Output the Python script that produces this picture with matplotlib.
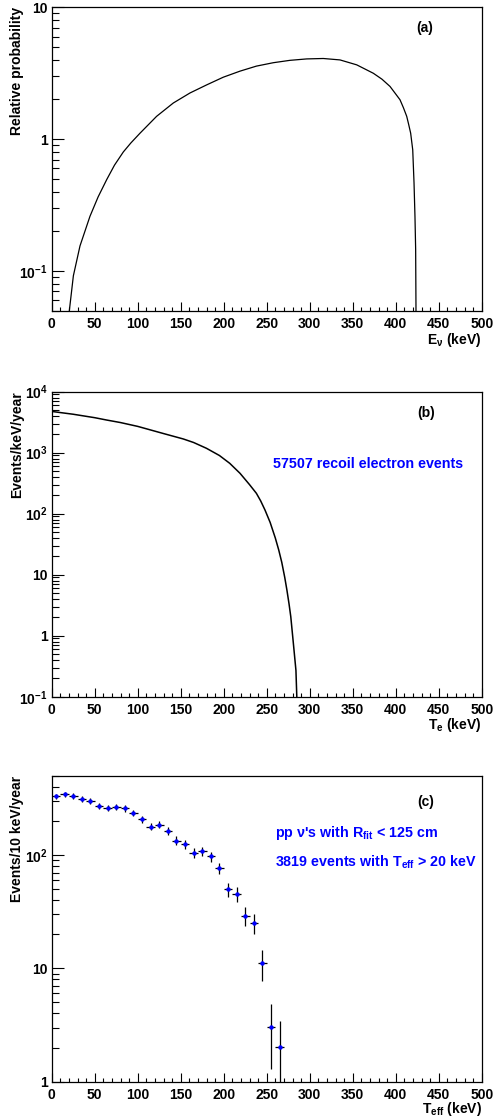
import numpy as np
import matplotlib
matplotlib.use("Agg")
import matplotlib.pyplot as plt
from matplotlib.ticker import FixedLocator, FuncFormatter, LogLocator, MultipleLocator, NullFormatter

plt.rcParams['font.family'] = ['Liberation Sans', 'DejaVu Sans']
plt.rcParams['font.weight'] = 'bold'
plt.rcParams['mathtext.fontset'] = 'custom'
plt.rcParams['mathtext.rm'] = 'Liberation Sans:bold'
plt.rcParams['mathtext.bf'] = 'Liberation Sans:bold'
plt.rcParams['mathtext.it'] = 'Liberation Sans:bold'
plt.rcParams['mathtext.default'] = 'bf'

# ---- Panel (a): neutrino energy spectrum ----
ev_energy = [20.5, 25.2, 32.9, 44.5, 54, 64, 73, 83.3, 92, 102.7, 122, 141.4, 160.8, 180.2,
             199.5, 219, 238, 257.7, 277, 296.5, 315.8, 335.2, 354.7, 374, 384, 393.4, 400,
             405, 409, 412.8, 415, 417.4, 419.8, 421.3, 422.4, 423.2, 423.6]
ev_prob = [0.05, 0.092, 0.155, 0.26, 0.365, 0.494, 0.635, 0.80, 0.935, 1.11, 1.49, 1.88, 2.24,
           2.58, 2.95, 3.28, 3.58, 3.80, 3.96, 4.06, 4.09, 3.99, 3.66, 3.16, 2.85, 2.51, 2.2,
           1.99, 1.73, 1.49, 1.3, 1.11, 0.83, 0.467, 0.26, 0.146, 0.05]

# ---- Panel (b): recoil electron spectrum ----
te_energy = [0, 10, 25, 50, 64, 80, 100, 114, 130, 153, 165, 180, 195, 207, 219, 230, 238,
             243, 248, 254, 260, 264, 267.5, 271, 273.5, 276, 278, 281, 284, 285]
te_rate = [4750, 4550, 4270, 3750, 3430, 3120, 2700, 2380, 2060, 1680, 1470, 1180, 900, 670,
           459, 300, 216, 162, 115, 72, 40, 25.4, 16, 9, 5.6, 3.3, 2.05, 0.75, 0.27, 0.1]

# ---- Panel (c): binned events ----
teff_centers = [5, 15, 25, 35, 45, 55, 65, 75, 85, 95, 105, 115, 125, 135, 145, 155, 165, 175,
                185, 195, 205, 215, 225, 235, 245, 255, 265]
teff_counts = [330, 344, 332, 311, 299, 272, 261, 264, 257, 234, 207, 178, 185, 164, 134, 124,
               104, 108, 97, 76, 50, 45, 29, 25, 11.1, 3.05, 2.03]
teff_err = [18.2, 18.5, 18.2, 17.6, 17.3, 16.5, 16.2, 16.2, 16.0, 15.3, 14.4, 13.3, 13.6, 12.8,
            11.6, 11.1, 10.2, 10.4, 9.8, 8.7, 7.1, 6.7, 5.4, 5.0, 3.3, 1.75, 1.42]
bin_halfwidth = 5

xticks_major = [0, 50, 100, 150, 200, 250, 300, 350, 400, 450, 500]

W, H = 495, 1120
fig = plt.figure(figsize=(W / 100, H / 100), dpi=100)

def rect(left, top, right, bottom):
    return [left / W, 1 - bottom / H, (right - left) / W, (bottom - top) / H]

ax_a = fig.add_axes(rect(51.7, 7.3, 481.7, 310.7))
ax_b = fig.add_axes(rect(51.7, 391.7, 481.7, 696.7))
ax_c = fig.add_axes(rect(51.7, 775.7, 481.7, 1081.7))

def logfmt(v, pos):
    e = int(round(np.log10(v)))
    if e == 0:
        return '1'
    if e == 1:
        return '10'
    return r'$\mathbf{10^{%d}}$' % e

def style(ax, ylim, xlabel, ylabel, xlab_y):
    ax.set_xlim(0, 500)
    ax.set_yscale('log')
    ax.set_ylim(*ylim)
    ax.xaxis.set_major_locator(FixedLocator(xticks_major))
    ax.xaxis.set_minor_locator(MultipleLocator(10))
    ax.yaxis.set_major_locator(LogLocator(base=10, numticks=20))
    ax.yaxis.set_minor_locator(LogLocator(base=10, subs=np.arange(2, 10), numticks=20))
    ax.yaxis.set_major_formatter(FuncFormatter(logfmt))
    ax.yaxis.set_minor_formatter(NullFormatter())
    ax.tick_params(axis='x', which='major', direction='in', length=6.2, width=0.8,
                   labelsize=10, pad=4.5)
    ax.tick_params(axis='x', which='minor', direction='in', length=3.2, width=0.8)
    ax.tick_params(axis='y', which='major', direction='in', length=8.6, width=0.8,
                   labelsize=10, pad=3)
    ax.tick_params(axis='y', which='minor', direction='in', length=4.8, width=0.8)
    for s in ax.spines.values():
        s.set_linewidth(0.9)
    ax.set_xlabel(xlabel, fontsize=10, fontweight='bold', loc='right')
    ax.xaxis.set_label_coords(1.0, xlab_y)
    ax.set_ylabel(ylabel, fontsize=10, fontweight='bold', loc='top')
    ax.yaxis.set_label_coords(-0.064, 1.0)

# Panel a
ax_a.plot(ev_energy, ev_prob, color='black', lw=0.9)
style(ax_a, (0.05, 10), r'E$_{\nu}$ (keV)', 'Relative probability', -0.068)
ax_a.text(0.868, 0.932, '(a)', transform=ax_a.transAxes, ha='center', va='center',
          fontsize=10, fontweight='bold')

# Panel b
ax_b.plot(te_energy, te_rate, color='black', lw=1.1)
style(ax_b, (0.1, 1e4), r'T$_{e}$ (keV)', 'Events/keV/year', -0.063)
ax_b.text(0.871, 0.929, '(b)', transform=ax_b.transAxes, ha='center', va='center',
          fontsize=10, fontweight='bold')
ax_b.text(0.515, 0.751, '57507 recoil electron events', transform=ax_b.transAxes,
          ha='left', va='baseline', fontsize=10.3, fontweight='bold', color='#0000ff')

# Panel c
ax_c.errorbar(teff_centers, teff_counts, yerr=teff_err, xerr=bin_halfwidth, fmt='o',
              color='#0000ff', ecolor='black', elinewidth=0.9, markersize=3.2,
              markeredgewidth=0, capsize=0, zorder=3)
style(ax_c, (1, 500), r'T$_{eff}$ (keV)', 'Events/10 keV/year', -0.06)
ax_c.text(0.869, 0.915, '(c)', transform=ax_c.transAxes, ha='center', va='center',
          fontsize=10, fontweight='bold')
ax_c.text(0.519, 0.799, r"pp ν's with R$_{fit}$ < 125 cm", transform=ax_c.transAxes,
          ha='left', va='baseline', fontsize=10.3, fontweight='bold', color='#0000ff')
ax_c.text(0.519, 0.702, r"3819 events with T$_{eff}$ > 20 keV", transform=ax_c.transAxes,
          ha='left', va='baseline', fontsize=10.3, fontweight='bold', color='#0000ff')

fig.savefig('out.png', dpi=100)
